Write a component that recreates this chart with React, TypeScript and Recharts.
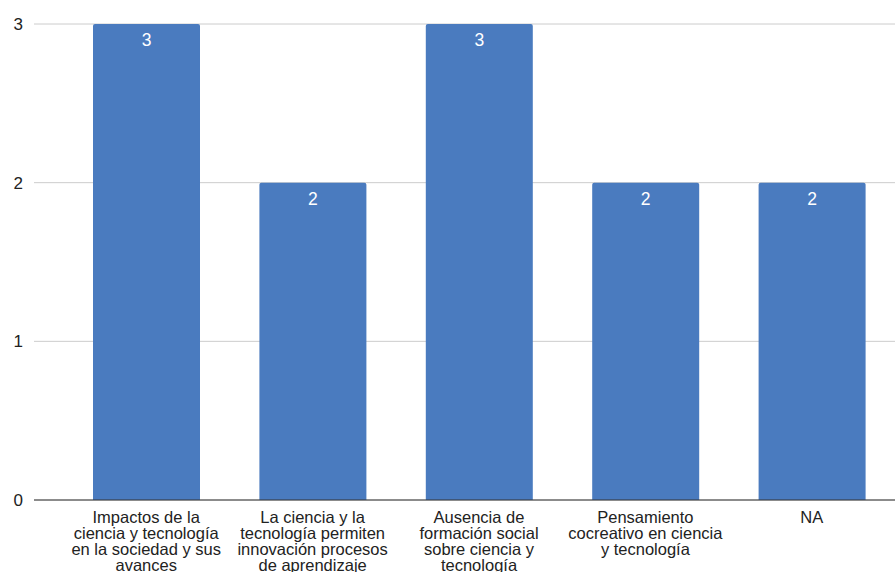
import React from "react";
import {
  Bar,
  BarChart,
  CartesianGrid,
  LabelList,
  XAxis,
  YAxis,
} from "recharts";

const categories = [
  "Impactos de la ciencia y tecnología en la sociedad y sus avances",
  "La ciencia y la tecnología permiten innovación procesos de aprendizaje",
  "Ausencia de formación social sobre ciencia y tecnología",
  "Pensamiento cocreativo en ciencia y tecnología",
  "NA",
];
const counts = [3, 2, 3, 2, 2];
const yTicks = [0, 1, 2, 3];

const data = categories.map((name, i) => ({ name, value: counts[i] }));

const FONT = "'Liberation Sans', Arial, sans-serif";
const barColor = "#4a7bbf";
const textColor = "#222222";
const gridColor = "#cccccc";

let ctx: CanvasRenderingContext2D | null = null;
function measure(text: string, size: number) {
  if (!ctx) ctx = document.createElement("canvas").getContext("2d");
  if (!ctx) return text.length * size * 0.5;
  ctx.font = `${size}px ${FONT}`;
  return ctx.measureText(text).width;
}

// greedy word wrap so long category names stack under their bar
function wrap(text: string, maxWidth: number, size: number) {
  const words = text.split(" ");
  const lines: string[] = [];
  let cur = "";
  for (const w of words) {
    const next = cur ? cur + " " + w : w;
    if (cur && measure(next, size) > maxWidth) {
      lines.push(cur);
      cur = w;
    } else {
      cur = next;
    }
  }
  if (cur) lines.push(cur);
  return lines;
}

function CategoryTick(props: any) {
  const { x, y, payload } = props;
  const size = 16.5;
  const lines = wrap(String(payload.value), 158, size);
  return (
    <text
      x={x}
      y={y + 23}
      textAnchor="middle"
      fill={textColor}
      fontSize={size}
      fontFamily={FONT}
    >
      {lines.map((l, i) => (
        <tspan key={i} x={x} dy={i === 0 ? 0 : 16}>
          {l}
        </tspan>
      ))}
    </text>
  );
}

export default function App() {
  return (
    <div style={{ position: "absolute", left: 0, top: 0 }}>
      <BarChart
        width={895}
        height={572}
        data={data}
        margin={{ top: 24, right: 0, left: 0, bottom: 0 }}
      >
        <CartesianGrid stroke={gridColor} vertical={false} />
        <XAxis
          dataKey="name"
          interval={0}
          height={72}
          padding={{ left: 29, right: 0 }}
          tickLine={false}
          tickSize={0}
          tickMargin={0}
          axisLine={{ stroke: "#333333" }}
          tick={<CategoryTick />}
        />
        <YAxis
          width={34}
          domain={[0, 3]}
          ticks={yTicks}
          tickLine={false}
          axisLine={false}
          tickSize={0}
          tickMargin={11}
          tick={{ fill: textColor, fontSize: 17, fontFamily: FONT }}
        />
        <Bar
          dataKey="value"
          fill={barColor}
          barSize={107}
          radius={[2, 2, 0, 0]}
          isAnimationActive={false}
        >
          <LabelList
            dataKey="value"
            position="insideTop"
            offset={10}
            fill="#ffffff"
            fontSize={17.5}
            fontFamily={FONT}
          />
        </Bar>
      </BarChart>
    </div>
  );
}
